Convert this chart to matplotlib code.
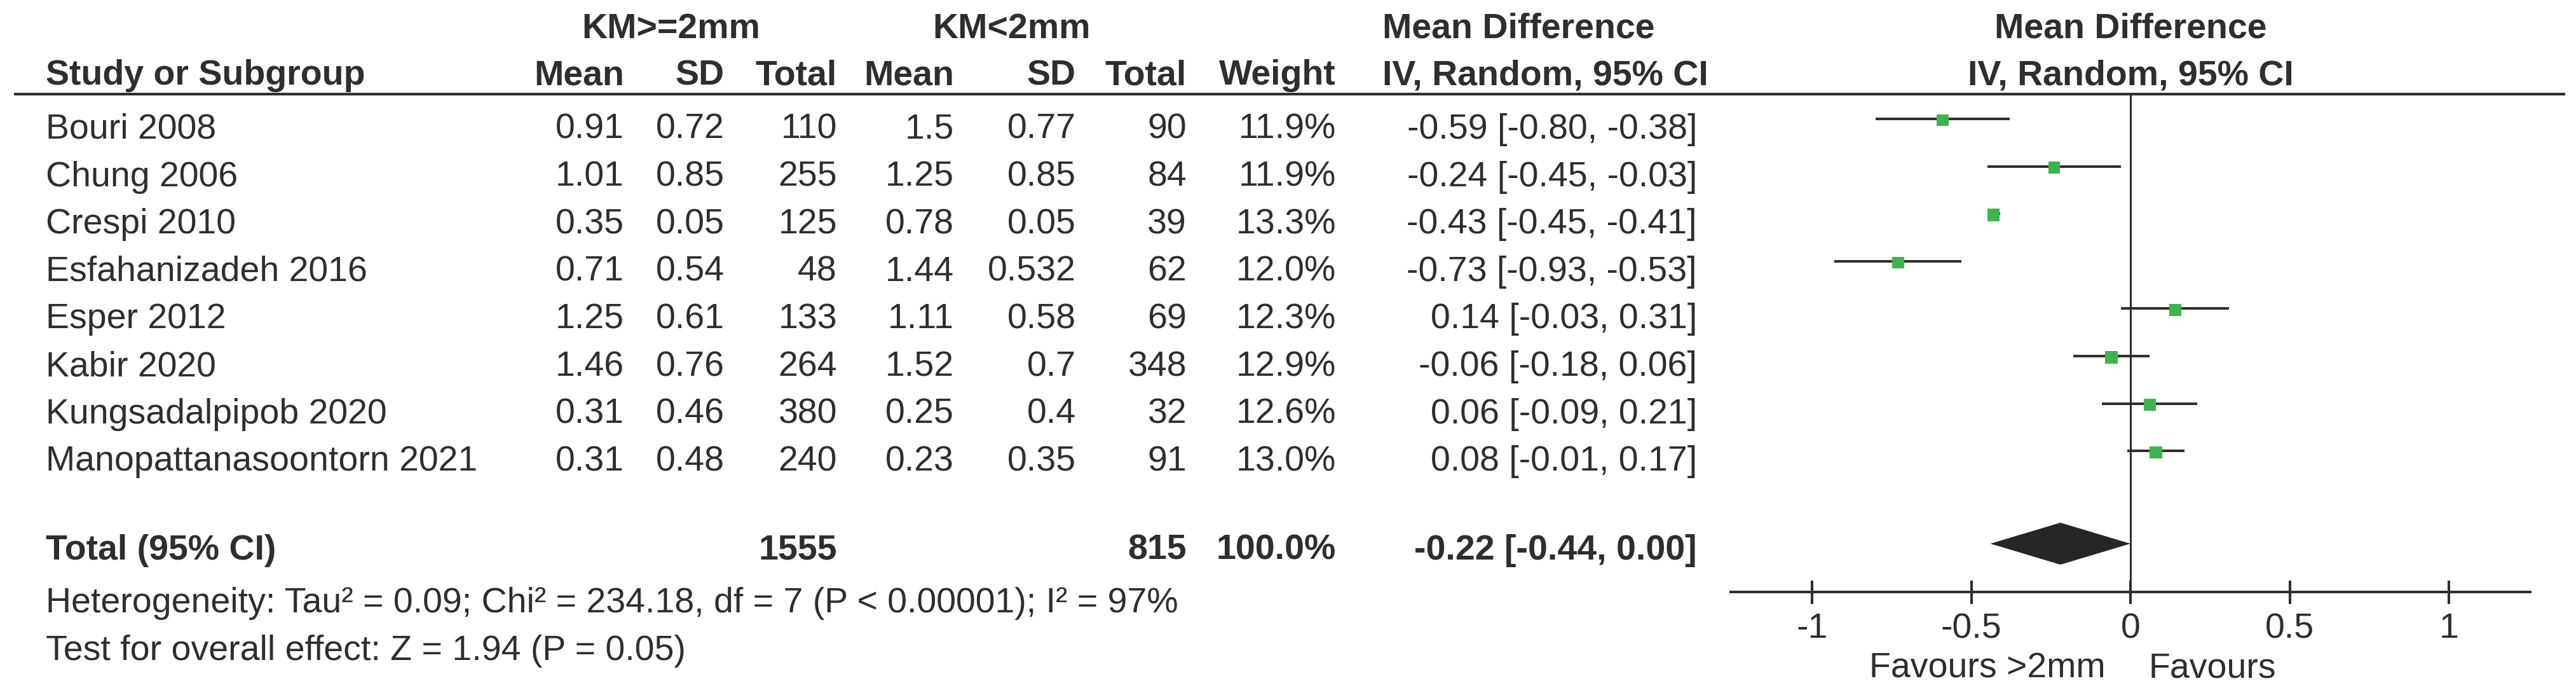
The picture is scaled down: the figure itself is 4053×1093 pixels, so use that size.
import matplotlib
matplotlib.use("Agg")
import matplotlib.pyplot as plt

# ---------------- data ----------------
studies = ["Bouri 2008", "Chung 2006", "Crespi 2010", "Esfahanizadeh 2016",
           "Esper 2012", "Kabir 2020", "Kungsadalpipob 2020", "Manopattanasoontorn 2021"]
mean_ge2 = [0.91, 1.01, 0.35, 0.71, 1.25, 1.46, 0.31, 0.31]
sd_ge2 = [0.72, 0.85, 0.05, 0.54, 0.61, 0.76, 0.46, 0.48]
n_ge2 = [110, 255, 125, 48, 133, 264, 380, 240]
mean_lt2 = [1.5, 1.25, 0.78, 1.44, 1.11, 1.52, 0.25, 0.23]
sd_lt2 = [0.77, 0.85, 0.05, 0.532, 0.58, 0.7, 0.4, 0.35]
n_lt2 = [90, 84, 39, 62, 69, 348, 32, 91]
weights = [11.9, 11.9, 13.3, 12.0, 12.3, 12.9, 12.6, 13.0]
md = [-0.59, -0.24, -0.43, -0.73, 0.14, -0.06, 0.06, 0.08]
ci_lo = [-0.80, -0.45, -0.45, -0.93, -0.03, -0.18, -0.09, -0.01]
ci_hi = [-0.38, -0.03, -0.41, -0.53, 0.31, 0.06, 0.21, 0.17]

total_n_ge2 = 1555
total_n_lt2 = 815
total_weight = 100.0
total_md = -0.22
total_lo = -0.44
total_hi = 0.00

heterogeneity = "Heterogeneity: Tau² = 0.09; Chi² = 234.18, df = 7 (P < 0.00001); I² = 97%"
overall = "Test for overall effect: Z = 1.94 (P = 0.05)"
tick_values = [-1, -0.5, 0, 0.5, 1]
tick_labels = ["-1", "-0.5", "0", "0.5", "1"]

# ---------------- styling ----------------
W, H = 4053, 1093
DPI = 100
FS = 40
TXT = "#2e2e2e"
GREEN = "#3cb44b"
FAM = ["Liberation Sans", "DejaVu Sans"]
plt.rcParams["font.family"] = FAM

fig = plt.figure(figsize=(W / DPI, H / DPI), dpi=DPI, facecolor="white")
ax = fig.add_axes([0, 0, 1, 1])
ax.set_xlim(0, W)
ax.set_ylim(H, 0)
ax.axis("off")

# forest axes: 0 at px 3352, 501 px per unit
ZERO_PX, UNIT = 3352, 501.0
XMIN, XMAX = -1.26, 1.26
left_px = ZERO_PX + XMIN * UNIT
right_px = ZERO_PX + XMAX * UNIT
fax = fig.add_axes([left_px / W, 0, (right_px - left_px) / W, 1])
fax.set_xlim(XMIN, XMAX)
fax.set_ylim(H, 0)
fax.axis("off")
fax.patch.set_alpha(0)

def t(x, y, s, ha="right", bold=False, target=None, **kw):
    (target or ax).text(x, y, s, ha=ha, va="baseline", fontsize=FS, color=TXT,
                        fontweight="bold" if bold else "normal", **kw)

# column right edges (px)
X_STUDY = 72
C_M1, C_SD1, C_N1 = 982, 1140, 1317
C_M2, C_SD2, C_N2 = 1501, 1693, 1867
C_W = 2102
C_CI_LEFT = 2175
C_CI = 2670

# headers
HB1, HB2 = 60, 133
t(1056, HB1, "KM>=2mm", ha="center", bold=True)
t(1592, HB1, "KM<2mm", ha="center", bold=True)
t(C_CI_LEFT, HB1, "Mean Difference", ha="left", bold=True)
t(0, HB1, "Mean Difference", ha="center", bold=True, target=fax)
t(X_STUDY, HB2, "Study or Subgroup", ha="left", bold=True)
for x, s in [(C_M1, "Mean"), (C_SD1, "SD"), (C_N1, "Total"),
             (C_M2, "Mean"), (C_SD2, "SD"), (C_N2, "Total"), (C_W, "Weight")]:
    t(x, HB2, s, bold=True)
t(C_CI_LEFT, HB2, "IV, Random, 95% CI", ha="left", bold=True)
t(0, HB2, "IV, Random, 95% CI", ha="center", bold=True, target=fax)

LINE_Y = 148
ax.hlines(LINE_Y, 22, 4036, color=TXT, lw=3.0)

# study rows
Y0, STEP = 218, 74.6
for i, name in enumerate(studies):
    yb = Y0 + i * STEP
    t(X_STUDY, yb, name, ha="left")
    t(C_M1, yb, str(mean_ge2[i]))
    t(C_SD1, yb, str(sd_ge2[i]))
    t(C_N1, yb, str(n_ge2[i]))
    t(C_M2, yb, str(mean_lt2[i]))
    t(C_SD2, yb, str(sd_lt2[i]))
    t(C_N2, yb, str(n_lt2[i]))
    t(C_W, yb, f"{weights[i]:.1f}%")
    t(C_CI, yb, f"{md[i]:.2f} [{ci_lo[i]:.2f}, {ci_hi[i]:.2f}]")
    yl = yb - 31
    fax.hlines(yl, ci_lo[i], ci_hi[i], color=TXT, lw=2.9, zorder=3)
    fax.scatter([md[i]], [yl + 2], marker="s", s=185 * weights[i] / 12.5,
                color=GREEN, edgecolors="none", zorder=4)

# total row
TB = 880
t(X_STUDY, TB, "Total (95% CI)", ha="left", bold=True)
t(C_N1, TB, str(total_n_ge2), bold=True)
t(C_N2, TB, str(total_n_lt2), bold=True)
t(C_W, TB, f"{total_weight:.1f}%", bold=True)
t(C_CI, TB, f"{total_md:.2f} [{total_lo:.2f}, {total_hi:.2f}]", bold=True)
yc = TB - 25
fax.fill([total_lo, total_md, total_hi, total_md], [yc, yc - 33, yc, yc + 33],
         color="#262626", lw=0, zorder=4)

t(X_STUDY, 963, heterogeneity, ha="left")
t(X_STUDY, 1038, overall, ha="left")

# zero line and axis
AXIS_Y = 931
fax.vlines(0, LINE_Y, AXIS_Y, color=TXT, lw=2.2, zorder=2)
fax.hlines(AXIS_Y, XMIN, XMAX, color=TXT, lw=2.9, zorder=2)
for v, lab in zip(tick_values, tick_labels):
    fax.vlines(v, AXIS_Y - 18, AXIS_Y + 19, color=TXT, lw=2.9)
    t(v, 1003, lab, ha="center", target=fax)

t(-0.078, 1066, "Favours >2mm", ha="right", target=fax)
t(0.056, 1066, "Favours", ha="left", target=fax)

fig.savefig("out.png", dpi=DPI, facecolor="white")
